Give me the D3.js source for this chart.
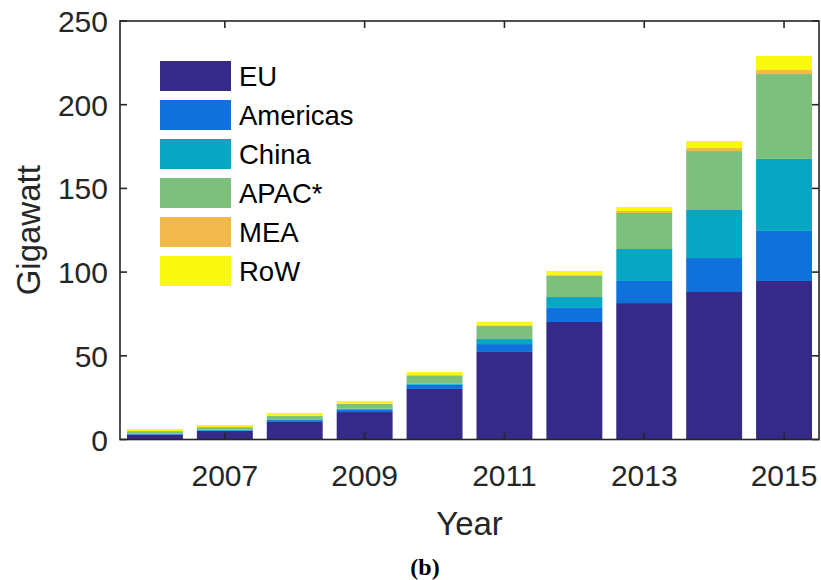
<!DOCTYPE html>
<html>
<head>
<meta charset="utf-8">
<script src="https://cdn.jsdelivr.net/npm/d3@7"></script>
<style>
  html, body { margin: 0; padding: 0; background: #ffffff; }
  svg { display: block; }
  text { font-family: "Liberation Sans", Arial, Helvetica, sans-serif; fill: #262626; }
</style>
</head>
<body>
<svg id="chart" width="821" height="580"></svg>
<script>
// Cumulative installed PV capacity by region (GW)
const years = [2006, 2007, 2008, 2009, 2010, 2011, 2012, 2013, 2014, 2015];
const regions = ["EU", "Americas", "China", "APAC*", "MEA", "RoW"];
const EU       = [2.9, 5.1, 10.5, 16.4, 30.2, 52.3, 70.2, 81.5, 88.1, 94.7];
const Americas = [0.4, 0.4, 1.1, 1.6, 2.5, 4.7, 8.4, 13.2, 20.3, 29.9];
const China    = [0.3, 0.3, 0.4, 0.4, 0.6, 3.0, 6.5, 19.1, 28.7, 43.0];
const APAC     = [1.4, 1.6, 2.0, 2.8, 5.0, 7.8, 12.8, 21.5, 35.2, 50.7];
const MEA      = [0.05, 0.05, 0.05, 0.1, 0.2, 0.4, 0.4, 1.2, 1.8, 2.4];
const RoW      = [1.2, 1.2, 1.8, 1.7, 1.8, 2.2, 2.4, 2.4, 4.2, 8.4];
const colors   = ["#352a87", "#0f72dc", "#07a7c4", "#7dbf7c", "#f1b84b", "#f8f90f"];
const yTicks   = [0, 50, 100, 150, 200, 250];
const xTicks   = [2007, 2009, 2011, 2013, 2015];

const seriesValues = [EU, Americas, China, APAC, MEA, RoW];
const rows = years.map((yr, i) => {
  const r = { year: yr };
  regions.forEach((k, j) => { r[k] = seriesValues[j][i]; });
  return r;
});

const svg = d3.select("#chart");
const plotL = 120, plotR = 819, plotT = 21, plotB = 439.5;

const x = d3.scaleLinear().domain([2005.5, 2015.5]).range([plotL, plotR]);
const y = d3.scaleLinear().domain([0, 250]).range([plotB, plotT]);
const color = d3.scaleOrdinal().domain(regions).range(colors);
const barW = 0.8 * (x(1) - x(0));

const stacked = d3.stack().keys(regions)(rows);

// stacked bars
svg.append("g").selectAll("g")
  .data(stacked).join("g")
  .attr("fill", d => color(d.key))
  .selectAll("rect")
  .data(d => d).join("rect")
  .attr("x", d => x(d.data.year) - barW / 2)
  .attr("width", barW)
  .attr("y", d => y(d[1]))
  .attr("height", d => y(d[0]) - y(d[1]));

// axes box with inward ticks on all four sides
const axisColor = "#262626";
const tickLen = 7;
const frame = svg.append("g").attr("stroke", axisColor).attr("stroke-width", 1.6).attr("fill", "none");
frame.append("rect").attr("x", plotL).attr("y", plotT).attr("width", plotR - plotL).attr("height", plotB - plotT);

yTicks.forEach(t => {
  frame.append("line").attr("x1", plotL).attr("x2", plotL + tickLen).attr("y1", y(t)).attr("y2", y(t));
  frame.append("line").attr("x1", plotR).attr("x2", plotR - tickLen).attr("y1", y(t)).attr("y2", y(t));
});
xTicks.forEach(t => {
  frame.append("line").attr("x1", x(t)).attr("x2", x(t)).attr("y1", plotB).attr("y2", plotB - tickLen);
  frame.append("line").attr("x1", x(t)).attr("x2", x(t)).attr("y1", plotT).attr("y2", plotT + tickLen);
});

// tick labels
svg.append("g").selectAll("text")
  .data(yTicks).join("text")
  .attr("x", plotL - 12)
  .attr("y", d => y(d) + 11)
  .attr("text-anchor", "end")
  .attr("font-size", 30)
  .text(d => d);

svg.append("g").selectAll("text")
  .data(xTicks).join("text")
  .attr("x", d => x(d))
  .attr("y", 485.5)
  .attr("text-anchor", "middle")
  .attr("font-size", 30)
  .text(d => d);

// axis titles
svg.append("text")
  .attr("x", (plotL + plotR) / 2)
  .attr("y", 535)
  .attr("text-anchor", "middle")
  .attr("font-size", 33)
  .text("Year");

svg.append("text")
  .attr("transform", `translate(40,${(plotT + plotB) / 2}) rotate(-90)`)
  .attr("text-anchor", "middle")
  .attr("font-size", 33)
  .text("Gigawatt");

// legend
const legend = svg.append("g").attr("transform", "translate(160,61)");
const items = legend.selectAll("g").data(regions).join("g")
  .attr("transform", (d, i) => `translate(0,${i * 39})`);
items.append("rect").attr("width", 71).attr("height", 30).attr("fill", d => color(d));
items.append("text")
  .attr("x", 79).attr("y", 15).attr("dy", "0.35em")
  .attr("font-size", 27.5)
  .style("fill", "#000")
  .text(d => d);

// panel caption
svg.append("text")
  .attr("x", 425)
  .attr("y", 575)
  .attr("text-anchor", "middle")
  .attr("font-size", 24)
  .attr("font-weight", "bold")
  .style("font-family", "'Liberation Serif', 'Times New Roman', serif")
  .style("fill", "#000")
  .text("(b)");
</script>
</body>
</html>
